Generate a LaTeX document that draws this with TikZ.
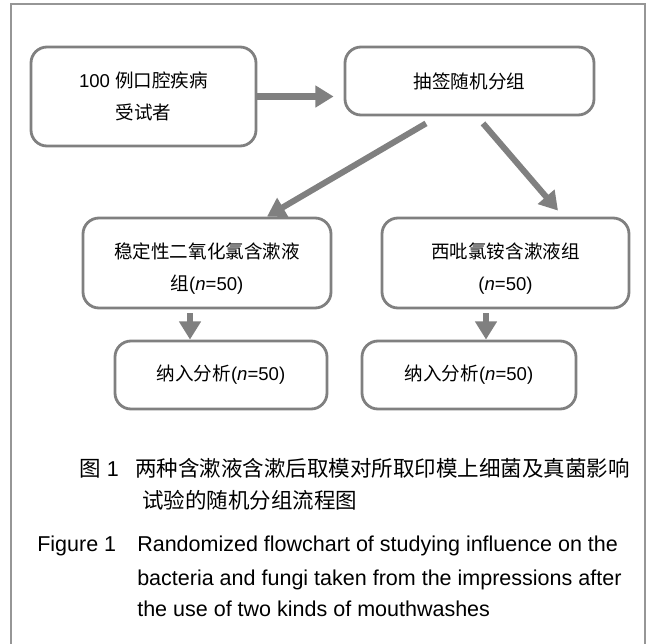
\documentclass[tikz,border=0pt]{standalone}
\usepackage{fontspec}
\setmainfont{Liberation Sans}
\newfontfamily\cjk{Noto Sans CJK SC}
\usetikzlibrary{arrows.meta,positioning}
\definecolor{boxgray}{RGB}{128,128,128}
\definecolor{framegray}{RGB}{150,150,150}
\newcommand{\zh}[1]{{\cjk #1}}

\begin{document}
\begin{tikzpicture}[
  flowbox/.style={draw=boxgray,line width=2pt,rounded corners=0.4cm,align=center,inner sep=0pt,font=\fontsize{13.2}{23}\selectfont},
  flowarr/.style={draw=boxgray,line width=4.3pt,-{Triangle[length=13pt,width=15pt]}},
  captext/.style={anchor=base west,inner sep=0pt,font=\fontsize{15.3}{23}\selectfont}]
\useasboundingbox (0,0) rectangle (16.25,-16.075);
\draw[framegray,line width=1.4pt] (0.275,-16.3) -- (0.275,-0.1) -- (16.125,-0.1) -- (16.125,-16.3);
\node[flowbox,minimum width=5.625cm,minimum height=2.475cm] (subj) at (3.5875,-2.4125) {100 \zh{例口腔疾病}\\\zh{受试者}};
\node[flowbox,minimum width=6.225cm,minimum height=1.7cm] (rand) at (11.7375,-2.025) {\zh{抽签随机分组}};
\node[flowbox,minimum width=6.2cm,minimum height=2.25cm] (clo2) at (5.175,-6.575) {\rule{0pt}{19pt}\zh{稳定性二氧化氯含漱液}\\\zh{组}(\textit{n}=50)};
\node[flowbox,minimum width=6.175cm,minimum height=2.25cm] (cpc) at (12.6375,-6.575) {\rule{0pt}{19pt}\zh{西吡氯铵含漱液组}\\(\textit{n}=50)};
\node[flowbox,minimum width=5.3cm,minimum height=1.7cm] (anaL) at (5.525,-9.375) {\zh{纳入分析}(\textit{n}=50)};
\node[flowbox,minimum width=5.35cm,minimum height=1.7cm] (anaR) at (11.725,-9.375) {\zh{纳入分析}(\textit{n}=50)};
\draw[flowarr] (subj.east) -- ([xshift=-0.25cm]subj.east -| rand.west);
\draw[flowarr] ([xshift=-1.0875cm,yshift=-0.175cm]rand.south) -- ([xshift=1.5cm]clo2.north);
\draw[flowarr] ([xshift=0.3375cm,yshift=-0.175cm]rand.south) -- ([xshift=1.3125cm,yshift=0.15cm]cpc.north);
\draw[flowarr] ([xshift=-0.425cm,yshift=-0.1cm]clo2.south) -- ([xshift=-0.425cm]clo2.south |- anaL.north);
\draw[flowarr] ([xshift=-0.4875cm,yshift=-0.1cm]cpc.south) -- ([xshift=-0.4875cm]cpc.south |- anaR.north);
\node[captext] (cnlab) at (1.975,-11.9) {\zh{图} 1};
\node[captext] (cn1) at (3.375,-11.9) {\zh{两种含漱液含漱后取模对所取印模上细菌及真菌影响}};
\node[captext] (cn2) at (3.55,-12.7) {\zh{试验的随机分组流程图}};
\node[captext] (enlab) at (0.925,-13.775) {Figure 1};
\node[captext] (en1) at (3.425,-13.775) {Randomized flowchart of studying influence on the};
\node[captext] (en2) at (3.425,-14.625) {bacteria and fungi taken from the impressions after};
\node[captext] (en3) at (3.425,-15.4) {the use of two kinds of mouthwashes};
\end{tikzpicture}
\end{document}
